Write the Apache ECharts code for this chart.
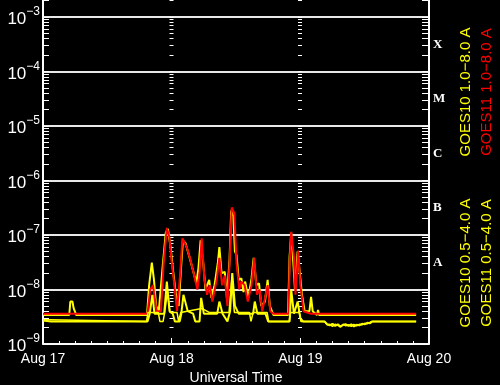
<!DOCTYPE html>
<html>
<head>
<meta charset="utf-8">
<script src="https://cdn.jsdelivr.net/npm/echarts@6/dist/echarts.min.js"></script>
<style>html,body{margin:0;padding:0;background:#000;}#c{width:500px;height:385px;}</style>
</head>
<body>
<div id="c"></div>
<script>
// ---- DATA (hours since Aug 17 00:00 UT, flux W/m^2) ----
const dayLabels = ['Aug 17', 'Aug 18', 'Aug 19', 'Aug 20'];
const decadeExps = [-9, -8, -7, -6, -5, -4, -3];
const classLetters = ['A', 'B', 'C', 'M', 'X'];
const xAxisTitle = 'Universal Time';
const legendG10Long = 'GOES10 1.0\u22128.0 A';
const legendG11Long = 'GOES11 1.0\u22128.0 A';
const legendG10Short = 'GOES10 0.5\u22124.0 A';
const legendG11Short = 'GOES11 0.5\u22124.0 A';

const g10Long = [
  [0, 3.4e-9], [4.9, 3.4e-9], [5.1, 6e-9], [5.5, 6e-9], [5.7, 4.6e-9], [6.0, 4.6e-9], [6.2, 3.4e-9],
  [19.4, 3.4e-9], [19.8, 1.2e-8], [20.3, 3.1e-8], [20.7, 1.5e-8], [21.1, 5e-9], [21.6, 4e-9],
  [22.3, 2.5e-8], [22.9, 1.1e-7], [23.3, 1.3e-7], [23.8, 6e-8], [24.2, 2.5e-8], [24.8, 8e-9],
  [25.3, 5e-9], [25.8, 3e-8], [26.1, 8e-8], [26.6, 7e-8], [27.3, 4e-8], [28.0, 2.2e-8],
  [28.6, 1.3e-8], [29.0, 2.5e-8], [29.4, 8e-8], [29.9, 3e-8], [30.3, 1e-8], [31.0, 1.5e-8],
  [31.4, 7e-9], [32.0, 1.2e-8], [32.6, 3e-8], [32.9, 6e-8], [33.3, 2e-8], [33.9, 2.1e-8],
  [34.3, 7e-9], [34.8, 3.5e-8], [35.1, 2.8e-7], [35.5, 2.2e-7], [35.8, 5e-8], [36.1, 4.3e-8],
  [36.5, 1.5e-8], [37.0, 1.6e-8], [37.4, 9e-9], [37.7, 1.4e-8], [38.3, 7e-9], [38.9, 1.6e-8],
  [39.3, 3.8e-8], [39.8, 1.2e-8], [40.3, 1.3e-8], [40.7, 5e-9], [41.4, 6e-9], [41.9, 1.5e-8],
  [42.3, 5e-9], [43.0, 3.4e-9], [45.7, 3.4e-9], [46.0, 4e-8], [46.3, 1.1e-7], [46.7, 3e-8],
  [47.0, 1e-8], [47.5, 5e-8], [47.9, 2e-8], [48.3, 8e-9], [48.8, 4e-9], [49.7, 4e-9],
  [50.0, 7.3e-9], [50.3, 4e-9], [51.1, 3.4e-9], [51.3, 4.2e-9], [51.5, 3.4e-9], [69.6, 3.4e-9]
];

const g11Long = [
  [0, 3.6e-9], [19.5, 3.6e-9], [20.0, 1.0e-8], [20.5, 1.2e-8], [21.2, 4e-9], [22.0, 4e-9],
  [22.5, 3e-8], [23.1, 1.35e-7], [23.6, 9e-8], [24.0, 3.2e-8], [24.5, 1.2e-8], [25.0, 4e-9],
  [25.6, 2e-8], [26.0, 8.7e-8], [26.8, 6e-8], [27.5, 3.5e-8], [28.2, 1.8e-8], [28.8, 1.0e-8],
  [29.2, 2e-8], [29.6, 8.7e-8], [30.1, 1.6e-8], [30.6, 8e-9], [31.1, 1.2e-8], [31.6, 6e-9],
  [32.4, 1.5e-8], [32.9, 3.8e-8], [33.4, 1.2e-8], [33.9, 1.8e-8], [34.4, 5e-9], [34.8, 3e-8],
  [35.2, 3.2e-7], [35.7, 2.5e-7], [36.1, 3e-8], [36.6, 1.0e-8], [37.0, 1.4e-8], [37.6, 1.2e-8],
  [38.2, 6e-9], [38.9, 1.2e-8], [39.4, 3.8e-8], [39.9, 8e-9], [40.4, 1.0e-8], [40.9, 4e-9],
  [41.9, 1.2e-8], [42.4, 4e-9], [43.0, 3.6e-9], [45.8, 3.6e-9], [46.0, 3e-8], [46.3, 1.15e-7],
  [46.8, 4e-8], [47.1, 8e-9], [47.6, 5.2e-8], [48.0, 1.2e-8], [48.6, 4e-9], [50.0, 3.6e-9],
  [69.6, 3.6e-9]
];

const g10Short = [
  [0, 2.7e-9], [1.5, 2.6e-9], [19.5, 2.6e-9], [19.9, 3.6e-9], [20.4, 8e-9], [20.8, 3.6e-9],
  [22.6, 3.6e-9], [23.1, 1.4e-8], [23.6, 4e-9], [24.2, 3.6e-9], [24.6, 2.6e-9], [25.5, 2.6e-9],
  [25.8, 3.6e-9], [26.2, 8e-9], [27.0, 4e-9], [28.0, 3.6e-9], [28.4, 2.6e-9], [29.2, 2.6e-9],
  [29.5, 7e-9], [30.0, 3.6e-9], [32.5, 3.6e-9], [32.9, 6e-9], [33.5, 3.6e-9], [34.4, 2.6e-9],
  [34.9, 4e-9], [35.3, 2e-8], [35.8, 5e-9], [36.5, 3.6e-9], [39.2, 3.6e-9], [39.5, 6e-9],
  [40.0, 3.6e-9], [41.5, 3.6e-9], [42.0, 2.6e-9], [46.0, 2.6e-9], [46.3, 1e-8], [46.8, 3.6e-9],
  [47.5, 6e-9], [48.0, 3e-9], [48.5, 2.6e-9], [52.5, 2.6e-9], [53.0, 2.3e-9], [53.5, 2.2e-9],
  [54.0, 2.35e-9], [54.5, 2.15e-9], [55.0, 2.3e-9], [55.5, 2.1e-9], [56.0, 2.25e-9],
  [56.5, 2.3e-9], [57.0, 2.15e-9], [57.5, 2.3e-9], [58.0, 2.1e-9], [58.5, 2.25e-9],
  [59.0, 2.2e-9], [59.5, 2.35e-9], [60.0, 2.3e-9], [60.5, 2.45e-9], [61.0, 2.4e-9],
  [61.4, 2.6e-9], [69.6, 2.6e-9]
];

const g11Short = [
  [0, 2.8e-9], [1.3, 2.8e-9], [1.5, 2.6e-9], [19.3, 2.6e-9], [19.6, 3.8e-9], [21.5, 3.8e-9],
  [21.8, 2.6e-9], [22.4, 2.6e-9], [22.7, 3.8e-9], [23.2, 9e-9], [23.7, 3.8e-9], [25.0, 3.8e-9],
  [25.3, 2.6e-9], [25.7, 3.8e-9], [29.6, 4.5e-9], [31.0, 3.8e-9], [34.7, 3.8e-9], [35.2, 1.5e-8],
  [35.7, 3.8e-9], [38.5, 3.8e-9], [38.8, 2.6e-9], [39.2, 3.8e-9], [41.8, 3.8e-9], [42.1, 2.6e-9],
  [45.9, 2.6e-9], [46.2, 3.8e-9], [47.8, 3.8e-9], [48.1, 2.6e-9], [52.5, 2.6e-9], [53.0, 2.25e-9],
  [53.5, 2.3e-9], [54.0, 2.1e-9], [54.5, 2.3e-9], [55.0, 2.2e-9], [55.5, 2.05e-9], [56.0, 2.3e-9],
  [56.5, 2.15e-9], [57.0, 2.25e-9], [57.5, 2.1e-9], [58.0, 2.3e-9], [58.5, 2.15e-9], [59.0, 2.3e-9],
  [59.5, 2.25e-9], [60.0, 2.4e-9], [60.5, 2.35e-9], [61.0, 2.5e-9], [61.4, 2.6e-9], [69.6, 2.6e-9]
];

// ---- build ----
const yMinExp = -9;
const yMaxExp = -2.688;   // top edge of the plotted window (log10 flux)
const toLog = arr => arr.map(p => [p[0], Math.log10(p[1])]);
const minorVals = [];
decadeExps.forEach(n => { for (let k = 1; k <= 9; k++) { const v = n + Math.log10(k); if (v <= yMaxExp) minorVals.push(v); } });
const supMinus = n => (n < 0 ? '\u2212' + Math.abs(n) : '' + n);

const chart = echarts.init(document.getElementById('c'), null, {renderer: 'canvas'});

const tickAxis = (position, offset, len) => ({
  type: 'value', min: yMinExp, max: yMaxExp, interval: 1, position: position, offset: offset,
  axisLine: {show: false, onZero: false},
  axisTick: {show: true, customValues: minorVals, inside: true, length: len, lineStyle: {color: '#fff', width: 1}},
  axisLabel: {show: false},
  splitLine: {show: false}
});

const option = {
  backgroundColor: '#000',
  animation: false,
  grid: {left: 43, right: 71, top: 0, bottom: 41, containLabel: false, outerBoundsMode: 'none'},
  xAxis: {
    type: 'value', min: 0, max: 72, interval: 24,
    axisLine: {show: true, lineStyle: {color: '#fff', width: 1.5}},
    axisTick: {show: true, inside: true, length: 6, lineStyle: {color: '#fff', width: 1}},
    minorTick: {show: true, splitNumber: 8, length: 3, lineStyle: {color: '#fff', width: 1}},
    axisLabel: {
      color: '#fff', fontFamily: 'Liberation Sans', fontSize: 14, margin: 8,
      showMinLabel: true, showMaxLabel: true,
      formatter: v => dayLabels[Math.round(v / 24)] || ''
    },
    splitLine: {show: false},
    name: xAxisTitle, nameLocation: 'middle', nameGap: 25,
    nameTextStyle: {color: '#fff', fontFamily: 'Liberation Sans', fontSize: 14}
  },
  yAxis: [
    {
      type: 'value', min: yMinExp, max: yMaxExp, interval: 1, position: 'left',
      axisLine: {show: true, onZero: false, lineStyle: {color: '#fff', width: 2}},
      axisTick: {show: false},
      axisLabel: {
        show: true, margin: 3, showMaxLabel: false,
        formatter: v => (Math.abs(v - Math.round(v)) < 1e-6 && v <= -3 ? '{b|10}{s|' + supMinus(Math.round(v)) + '}' : ''),
        rich: {
          b: {color: '#fff', fontFamily: 'Liberation Sans', fontSize: 17, verticalAlign: 'bottom', lineHeight: 22},
          s: {color: '#fff', fontFamily: 'Liberation Sans', fontSize: 12, verticalAlign: 'top', lineHeight: 22}
        }
      },
      splitLine: {show: true, showMaxLine: false, lineStyle: {color: '#e8e8e8', width: 2}}
    },
    {
      type: 'value', min: yMinExp, max: yMaxExp, interval: 0.5, position: 'right',
      axisLine: {show: true, onZero: false, lineStyle: {color: '#fff', width: 2}},
      axisTick: {show: false},
      axisLabel: {
        show: true, margin: 4, color: '#fff', fontFamily: 'Liberation Serif', fontWeight: 'bold', fontSize: 13,
        formatter: v => {
          const i = Math.round(v + 7.5);
          return (Math.abs(v - Math.round(v) + 0.5) < 1e-6 || Math.abs(v - Math.round(v) - 0.5) < 1e-6) && i >= 0 && i < classLetters.length ? classLetters[i] : '';
        }
      },
      splitLine: {show: false}
    },
    tickAxis('left', 0, 6),
    tickAxis('right', 0, 7),
    tickAxis('left', -126.5, 4),
    tickAxis('left', -255, 4)
  ],
  series: [
    {type: 'line', name: legendG10Long, data: toLog(g10Long), showSymbol: false, symbol: 'none', lineStyle: {color: '#ffff00', width: 2}, z: 2},
    {type: 'line', name: legendG11Long, data: toLog(g11Long), showSymbol: false, symbol: 'none', lineStyle: {color: '#ff0000', width: 2}, z: 3},
    {type: 'line', name: legendG10Short, data: toLog(g10Short), showSymbol: false, symbol: 'none', lineStyle: {color: '#ffff00', width: 2}, z: 4},
    {type: 'line', name: legendG11Short, data: toLog(g11Short), showSymbol: false, symbol: 'none', lineStyle: {color: '#ffff00', width: 1.5}, z: 4}
  ],
  graphic: [
    {type: 'text', x: 466, y: 92, rotation: Math.PI / 2, style: {text: legendG10Long, fill: '#ffff00', font: '15px "Liberation Sans"', align: 'center', verticalAlign: 'middle'}},
    {type: 'text', x: 466, y: 263, rotation: Math.PI / 2, style: {text: legendG10Short, fill: '#ffff00', font: '15px "Liberation Sans"', align: 'center', verticalAlign: 'middle'}},
    {type: 'text', x: 487, y: 92, rotation: Math.PI / 2, style: {text: legendG11Long, fill: '#ff0000', font: '15px "Liberation Sans"', align: 'center', verticalAlign: 'middle'}},
    {type: 'text', x: 487, y: 263, rotation: Math.PI / 2, style: {text: legendG11Short, fill: '#ffff00', font: '15px "Liberation Sans"', align: 'center', verticalAlign: 'middle'}}
  ]
};
chart.setOption(option);
</script>
</body>
</html>
